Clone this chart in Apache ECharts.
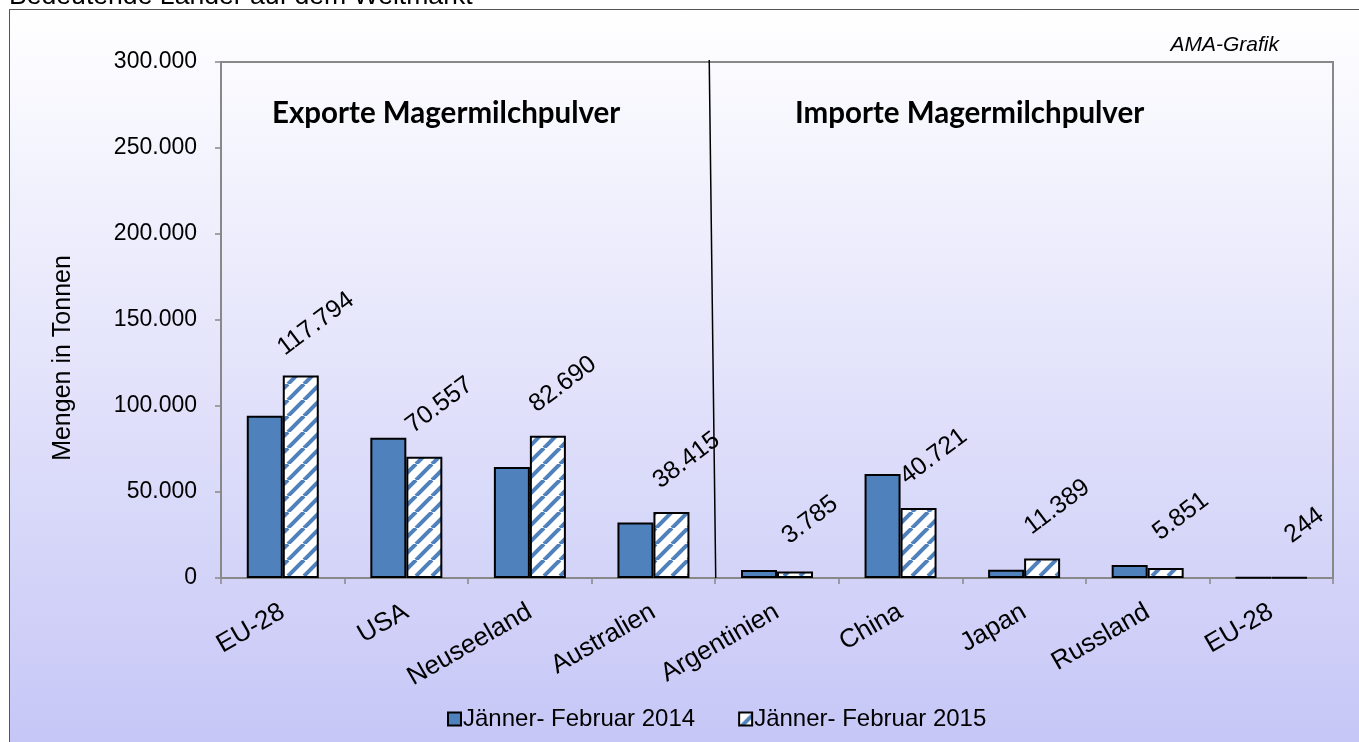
<!DOCTYPE html>
<html>
<head>
    <meta charset="utf-8">
    <title>Magermilchpulver Weltmarkt</title>
    <script src="https://cdn.jsdelivr.net/npm/echarts@6/dist/echarts.min.js"></script>
    <style>
        html, body {
            margin: 0;
            padding: 0;
            background: #ffffff;
        }
        #chart {
            width: 1359px;
            height: 742px;
        }
    </style>
</head>
<body>
<div id="chart"></div>
<script>
    // categories (4 export countries, then 5 import countries)
    const countries = ['EU-28', 'USA', 'Neuseeland', 'Australien', 'Argentinien', 'China', 'Japan', 'Russland', 'EU-28'];
    const seriesNames = ['Jänner- Februar 2014', 'Jänner- Februar 2015'];
    // values in tonnes
    const values2014 = [94400, 81600, 64600, 32200, 4700, 60500, 4800, 7600, 300];
    const values2015 = [117794, 70557, 82690, 38415, 3785, 40721, 11389, 5851, 244];
    const yTicks = { min: 0, max: 300000, interval: 50000 };
    const panelTitles = ['Exporte Magermilchpulver', 'Importe Magermilchpulver'];

    const blue = '#4f81bd';

    // German thousands separator
    function fmt(v) {
        return String(v).replace(/\B(?=(\d{3})+(?!\d))/g, '.');
    }

    // white / blue diagonal stripe pattern for 2015
    function stripePattern() {
        const s = 16;
        const c = document.createElement('canvas');
        c.width = s;
        c.height = s;
        const ctx = c.getContext('2d');
        ctx.fillStyle = '#ffffff';
        ctx.fillRect(0, 0, s, s);
        ctx.strokeStyle = blue;
        ctx.lineWidth = 4;
        for (let k = -1; k <= 1; k++) {
            ctx.beginPath();
            ctx.moveTo(k * s, s);
            ctx.lineTo(k * s + s, 0);
            ctx.stroke();
        }
        return { image: c, repeat: 'repeat' };
    }

    const chart = echarts.init(document.getElementById('chart'));

    const option = {
        backgroundColor: '#ffffff',
        animation: false,
        textStyle: { fontFamily: 'Liberation Sans, Arial, sans-serif' },
        title: {
            text: 'Bedeutende Länder auf dem Weltmarkt',
            left: 9,
            top: -17,
            padding: 0,
            textStyle: { fontSize: 26.6, fontWeight: 'normal', color: '#000' }
        },
        graphic: [
            {
                type: 'rect',
                z: -10,
                shape: { x: 9.5, y: 9.5, width: 1360, height: 740 },
                style: {
                    fill: {
                        type: 'linear', x: 0, y: 0, x2: 0, y2: 1,
                        colorStops: [
                            { offset: 0, color: '#ffffff' },
                            { offset: 1, color: '#c6c6f7' }
                        ]
                    },
                    stroke: '#555',
                    lineWidth: 1
                }
            },
            {
                type: 'text',
                x: 272, y: 113,
                style: {
                    text: panelTitles[0],
                    font: 'bold 29.5px Lato, sans-serif',
                    fill: '#000',
                    verticalAlign: 'middle'
                }
            },
            {
                type: 'text',
                x: 795, y: 113,
                style: {
                    text: panelTitles[1],
                    font: 'bold 29.5px Lato, sans-serif',
                    fill: '#000',
                    verticalAlign: 'middle'
                }
            },
            {
                type: 'text',
                x: 1279, y: 45,
                style: {
                    text: 'AMA-Grafik',
                    font: 'italic 21px Liberation Sans, Arial, sans-serif',
                    fill: '#000',
                    align: 'right',
                    verticalAlign: 'middle'
                }
            },
            {
                // y axis title, sits a little below the plot middle as in the original
                type: 'text',
                x: 63, y: 358,
                rotation: Math.PI / 2,
                style: {
                    text: 'Mengen in Tonnen',
                    font: '25px Liberation Sans, Arial, sans-serif',
                    fill: '#000',
                    align: 'center',
                    verticalAlign: 'middle'
                }
            }
        ],
        grid: {
            left: 221,
            right: 26,
            top: 62,
            bottom: 164,
            show: true,
            borderColor: '#888',
            borderWidth: 2,
            backgroundColor: 'transparent'
        },
        legend: {
            data: seriesNames,
            top: 707,
            left: 447,
            padding: 0,
            icon: 'rect',
            itemWidth: 13,
            itemHeight: 13,
            itemGap: 43,
            itemStyle: { borderColor: '#000', borderWidth: 2 },
            textStyle: { fontSize: 24, color: '#000', padding: [0, 0, 0, -3] }
        },
        xAxis: {
            type: 'category',
            data: countries,
            axisLine: { lineStyle: { color: '#888', width: 2 } },
            axisTick: { show: true, length: 6, lineStyle: { color: '#888', width: 1.5 } },
            axisLabel: {
                rotate: 30,
                fontSize: 26,
                color: '#000',
                margin: 32,
                interval: 0
            }
        },
        yAxis: {
            type: 'value',
            min: yTicks.min,
            max: yTicks.max,
            interval: yTicks.interval,
            splitLine: { show: false },
            axisLine: { show: true, lineStyle: { color: '#888', width: 2 } },
            axisTick: { show: true, length: 6, lineStyle: { color: '#888', width: 1.5 } },
            axisLabel: {
                fontSize: 23,
                color: '#000',
                margin: 24,
                formatter: fmt
            }
        },
        series: [
            {
                name: seriesNames[0],
                type: 'bar',
                data: values2014,
                barWidth: 36,
                barGap: '0%',
                itemStyle: { color: blue, borderColor: '#000', borderWidth: 2 }
            },
            {
                name: seriesNames[1],
                type: 'bar',
                data: values2015,
                barWidth: 36,
                itemStyle: { color: stripePattern(), borderColor: '#000', borderWidth: 2 },
                label: {
                    show: true,
                    position: 'top',
                    distance: 0,
                    rotate: 37,
                    align: 'center',
                    verticalAlign: 'middle',
                    // offset is applied in the rotated frame
                    offset: [43, -32],
                    fontSize: 25,
                    color: '#000',
                    formatter: p => fmt(p.value)
                }
            }
        ]
    };

    chart.setOption(option);

    // divider between export and import blocks (slightly slanted as in the original)
    const left = chart.convertToPixel({ xAxisIndex: 0 }, 3);
    const right = chart.convertToPixel({ xAxisIndex: 0 }, 4);
    const xb = (left + right) / 2;
    const yBottom = chart.convertToPixel({ yAxisIndex: 0 }, 0);
    const yTop = chart.convertToPixel({ yAxisIndex: 0 }, yTicks.max);
    option.graphic.push({
        type: 'line',
        shape: { x1: xb - 6, y1: yTop - 2, x2: xb + 0.5, y2: yBottom },
        style: { stroke: '#000', lineWidth: 1.5 },
        z: 10
    });
    chart.setOption({ graphic: option.graphic });
</script>
</body>
</html>
